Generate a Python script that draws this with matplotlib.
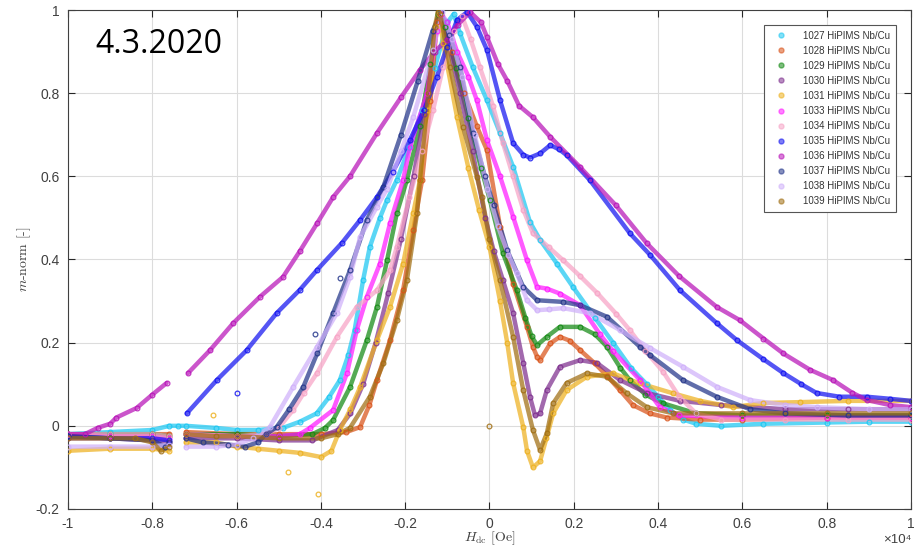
import numpy as np
import matplotlib
matplotlib.use("Agg")
import matplotlib.pyplot as plt
from matplotlib.lines import Line2D

nan = np.nan

# Sample names and plot colours (legend order)
samples = ["1027", "1028", "1029", "1030", "1031", "1033",
           "1034", "1035", "1036", "1037", "1038", "1039"]
colors = ["#1CC7F2", "#D95319", "#138A13", "#7E2F8E", "#EDB120", "#FF1AFF",
          "#F7A3C6", "#1414F0", "#B814B8", "#23358A", "#CFB0FA", "#A06E12"]

# Field H_dc in units of 1e4 Oe, normalised moment m; nan marks missing data
h_1027 = [-1.0, -0.9, -0.8, -0.76, -0.74, -0.72, -0.65, -0.6, -0.55, -0.49, -0.45, -0.41, -0.38,
          -0.355, -0.335, -0.32, -0.30, -0.284, -0.26, -0.243, -0.22, -0.19, -0.16, -0.13, -0.1,
          -0.085, -0.07, -0.04, -0.006, 0.025, 0.056, 0.096, 0.12, 0.16, 0.198, 0.25, 0.293, 0.335,
          0.373, 0.40, 0.428, 0.46, 0.49, 0.55, 0.65, 0.8, 0.9, 1.0]
m_1027 = [-0.02, -0.015, -0.01, 0.0, 0.0, 0.0, -0.005, -0.01, -0.01, -0.005, 0.01, 0.03, 0.07,
          0.11, 0.17, 0.23, 0.35, 0.43, 0.50, 0.543, 0.591, 0.67, 0.76, 0.86, 0.97,
          0.99, 0.944, 0.863, 0.783, 0.704, 0.623, 0.49, 0.447, 0.39, 0.334, 0.26, 0.2, 0.14,
          0.1, 0.07, 0.038, 0.015, 0.005, 0.0, 0.005, 0.008, 0.01, 0.01]

h_1028 = [-1.0, -0.9, -0.8, -0.76, nan, -0.72, -0.6, -0.5, -0.4, -0.34, -0.307, -0.285, -0.267,
          -0.236, -0.205, -0.181, -0.16, -0.14, -0.125, -0.115, -0.09, -0.06, -0.03, -0.006, 0.025,
          0.056, 0.089, 0.103, 0.113, 0.12, 0.144, 0.167, 0.19, 0.215, 0.25, 0.279, 0.31, 0.34,
          0.38, 0.42, 0.5, 0.6, 0.8, 1.0]
m_1028 = [-0.02, -0.025, -0.02, -0.02, nan, -0.015, -0.02, -0.02, -0.02, -0.015, -0.003, 0.05, 0.11,
          0.206, 0.326, 0.47, 0.591, 0.78, 0.97, 0.99, 0.9, 0.8, 0.72, 0.663, 0.479,
          0.342, 0.238, 0.19, 0.166, 0.158, 0.198, 0.214, 0.205, 0.182, 0.15, 0.12, 0.085, 0.05,
          0.03, 0.02, 0.015, 0.015, 0.02, 0.02]

h_1029 = [-1.0, -0.9, -0.8, -0.76, nan, -0.72, -0.6, -0.5, -0.42, -0.39, -0.371, -0.331, -0.291,
          -0.267, -0.243, -0.22, -0.196, -0.165, -0.14, -0.122, -0.105, -0.08, -0.05, -0.02, 0.001,
          0.032, 0.065, 0.085, 0.1, 0.113, 0.136, 0.167, 0.215, 0.25, 0.279, 0.31, 0.333, 0.37,
          0.412, 0.49, 0.6, 0.8, 1.0]
m_1029 = [-0.02, -0.02, -0.02, -0.025, nan, -0.02, -0.02, -0.025, -0.02, -0.005, 0.014, 0.093, 0.206,
          0.286, 0.398, 0.511, 0.591, 0.72, 0.87, 0.99, 0.96, 0.86, 0.74, 0.62, 0.543,
          0.415, 0.326, 0.26, 0.215, 0.194, 0.214, 0.238, 0.238, 0.22, 0.19, 0.14, 0.11, 0.075,
          0.054, 0.03, 0.025, 0.025, 0.025]

h_1030 = [-1.0, -0.9, -0.8, -0.76, nan, -0.72, -0.6, -0.5, -0.42, -0.36, -0.33, -0.3, -0.27, -0.24,
          -0.21, -0.18, -0.155, -0.135, -0.12, -0.1, -0.07, -0.04, -0.01, 0.01, 0.032, 0.056, 0.08,
          0.096, 0.108, 0.12, 0.136, 0.167, 0.215, 0.255, 0.31, 0.373, 0.452, 0.55, 0.7, 0.85, 1.0]
m_1030 = [-0.03, -0.03, -0.035, -0.04, nan, -0.03, -0.03, -0.035, -0.035, -0.01, 0.03, 0.1, 0.2, 0.32,
          0.45, 0.6, 0.75, 0.9, 0.99, 0.93, 0.8, 0.66, 0.5, 0.42, 0.35, 0.271, 0.151,
          0.07, 0.025, 0.03, 0.086, 0.142, 0.158, 0.151, 0.11, 0.079, 0.06, 0.05, 0.04, 0.04, 0.04]

h_1031 = [-1.0, -0.9, -0.8, -0.76, nan, -0.72, -0.65, -0.6, -0.55, -0.5, -0.45, -0.4, -0.375, -0.355,
          -0.33, -0.307, -0.267, -0.236, -0.205, -0.181, -0.165, -0.145, -0.128, -0.12, -0.11,
          -0.077, -0.05, -0.025, 0.0, 0.025, 0.042, 0.056, 0.08, 0.089, 0.103, 0.12, 0.135, 0.151,
          0.183, 0.231, 0.293, 0.357, 0.436, 0.5, 0.578, 0.65, 0.737, 0.85, 1.0]
m_1031 = [-0.06, -0.055, -0.055, -0.06, nan, -0.04, -0.04, -0.05, -0.055, -0.06, -0.065, -0.075, -0.06, -0.01,
          0.04, 0.093, 0.206, 0.286, 0.39, 0.511, 0.591, 0.76, 0.96, 0.99, 0.92,
          0.742, 0.62, 0.52, 0.43, 0.3, 0.2, 0.103, -0.003, -0.06, -0.1, -0.085, -0.03, 0.03,
          0.086, 0.118, 0.126, 0.102, 0.078, 0.06, 0.045, 0.055, 0.057, 0.06, 0.06]

h_1033 = [-1.0, -0.9, -0.8, -0.76, nan, -0.72, -0.6, -0.5, -0.45, -0.426, -0.371, -0.338, -0.315,
          -0.291, -0.26, -0.236, -0.205, -0.189, -0.148, -0.125, -0.115, -0.1, -0.077, -0.05, -0.03,
          -0.006, 0.025, 0.056, 0.089, 0.113, 0.136, 0.167, 0.215, 0.262, 0.293, 0.357, 0.404, 0.45,
          0.6, 0.8, 1.0]
m_1033 = [-0.02, -0.025, -0.025, -0.03, nan, -0.02, -0.025, -0.025, -0.02, -0.005, 0.038, 0.127, 0.23,
          0.31, 0.39, 0.487, 0.591, 0.67, 0.8, 0.95, 0.99, 0.97, 0.9, 0.84, 0.783,
          0.687, 0.6, 0.503, 0.398, 0.334, 0.33, 0.318, 0.29, 0.22, 0.18, 0.11, 0.045, 0.025,
          0.02, 0.02, 0.02]

h_1034 = [-1.0, -0.9, -0.8, -0.76, nan, -0.72, -0.6, -0.53, -0.5, -0.466, -0.44, -0.409, -0.362, -0.315,
          -0.267, -0.236, -0.22, -0.19, -0.16, -0.134, -0.11, -0.085, -0.065, -0.045, -0.023, 0.008,
          0.032, 0.056, 0.08, 0.103, 0.14, 0.175, 0.215, 0.255, 0.3, 0.333, 0.37, 0.412, 0.45, 0.49,
          0.55, 0.7, 0.85, 1.0]
m_1034 = [-0.02, -0.02, -0.02, -0.025, nan, -0.02, -0.025, -0.02, -0.005, 0.038, 0.08, 0.127, 0.214, 0.286,
          0.326, 0.374, 0.43, 0.55, 0.66, 0.759, 0.863, 0.95, 0.985, 0.93, 0.863, 0.77,
          0.68, 0.6, 0.52, 0.463, 0.43, 0.398, 0.36, 0.32, 0.27, 0.23, 0.18, 0.13, 0.07, 0.03,
          0.015, 0.015, 0.015, 0.015]

h_1035 = [-1.0, -0.9, -0.8, -0.76, nan, -0.718, -0.647, -0.576, -0.505, -0.45, -0.409, -0.35, -0.307,
          -0.267, -0.23, -0.189, -0.155, -0.125, -0.101, -0.077, -0.053, -0.03, -0.006, 0.025, 0.056,
          0.08, 0.096, 0.12, 0.144, 0.165, 0.183, 0.238, 0.333, 0.381, 0.452, 0.539, 0.587, 0.65,
          0.697, 0.74, 0.776, 0.83, 0.895, 0.95, 1.0]
m_1035 = [-0.025, -0.03, -0.03, -0.035, nan, 0.03, 0.11, 0.182, 0.271, 0.327, 0.375, 0.44, 0.495,
          0.55, 0.61, 0.687, 0.76, 0.839, 0.911, 0.976, 0.995, 0.96, 0.904, 0.783, 0.68,
          0.652, 0.645, 0.655, 0.675, 0.665, 0.651, 0.591, 0.463, 0.411, 0.326, 0.247, 0.206, 0.16,
          0.127, 0.1, 0.079, 0.07, 0.07, 0.065, 0.06]

h_1036 = [-1.0, -0.96, -0.93, -0.9, -0.885, -0.837, -0.8, -0.766, nan, -0.715, -0.663, -0.608, -0.545,
          -0.49, -0.45, -0.409, -0.371, -0.331, -0.267, -0.21, -0.165, -0.13, -0.101, -0.075, -0.046,
          -0.02, -0.006, 0.02, 0.042, 0.07, 0.103, 0.144, 0.215, 0.3, 0.373, 0.45, 0.539, 0.594,
          0.65, 0.697, 0.76, 0.815, 0.86, 0.895, 0.95, 1.0]
m_1036 = [-0.02, -0.02, -0.005, 0.005, 0.02, 0.043, 0.075, 0.103, nan, 0.127, 0.182, 0.247, 0.31,
          0.358, 0.42, 0.487, 0.55, 0.6, 0.704, 0.79, 0.856, 0.9, 0.928, 0.965, 0.995,
          0.97, 0.935, 0.87, 0.83, 0.77, 0.742, 0.695, 0.622, 0.53, 0.439, 0.36, 0.286, 0.254,
          0.21, 0.174, 0.135, 0.11, 0.08, 0.062, 0.05, 0.045]

h_1037 = [-1.0, -0.9, -0.8, -0.77, -0.76, nan, -0.72, -0.68, -0.62, -0.58, -0.55, -0.53, -0.505,
          -0.475, -0.442, -0.409, -0.371, -0.331, -0.291, -0.252, -0.21, -0.17, -0.135, -0.115,
          -0.095, -0.07, -0.039, -0.011, 0.01, 0.042, 0.08, 0.113, 0.175, 0.215, 0.279, 0.357,
          0.381, 0.459, 0.539, 0.618, 0.7, 0.85, 1.0]
m_1037 = [-0.025, -0.03, -0.035, -0.05, -0.04, nan, -0.03, -0.04, -0.045, -0.05, -0.04, -0.02, -0.003,
          0.04, 0.093, 0.174, 0.271, 0.374, 0.495, 0.574, 0.7, 0.83, 0.95, 0.995,
          0.94, 0.863, 0.704, 0.6, 0.53, 0.422, 0.334, 0.302, 0.298, 0.29, 0.262, 0.19,
          0.17, 0.11, 0.07, 0.04, 0.03, 0.025, 0.025]

h_1038 = [-1.0, -0.9, -0.8, -0.76, nan, -0.72, -0.65, -0.6, -0.56, -0.521, -0.466, -0.409, -0.362,
          -0.331, -0.307, -0.267, -0.243, -0.21, -0.181, -0.134, -0.113, -0.09, -0.065, -0.035,
          -0.005, 0.02, 0.045, 0.065, 0.089, 0.113, 0.14, 0.175, 0.238, 0.31, 0.381, 0.459, 0.539,
          0.618, 0.7, 0.776, 0.9, 1.0]
m_1038 = [-0.05, -0.05, -0.05, -0.045, nan, -0.05, -0.05, -0.045, -0.03, -0.003, 0.093, 0.19, 0.271,
          0.358, 0.454, 0.527, 0.57, 0.66, 0.742, 0.904, 0.995, 0.93, 0.84, 0.7,
          0.57, 0.48, 0.41, 0.367, 0.302, 0.278, 0.28, 0.283, 0.271, 0.23, 0.187, 0.142, 0.094,
          0.062, 0.05, 0.045, 0.04, 0.04]

h_1039 = [-1.0, -0.9, -0.84, -0.8, -0.78, -0.76, nan, -0.72, -0.65, -0.6, -0.5, -0.4, -0.36, -0.331,
          -0.284, -0.252, -0.22, -0.196, -0.172, -0.165, -0.145, -0.13, -0.122, -0.117, -0.094,
          -0.063, -0.03, -0.018, 0.0, 0.025, 0.056, 0.08, 0.103, 0.12, 0.136, 0.151, 0.183, 0.231,
          0.279, 0.326, 0.373, 0.436, 0.6, 0.8, 1.0]
m_1039 = [-0.03, -0.03, -0.03, -0.04, -0.06, -0.05, nan, -0.02, -0.025, -0.025, -0.03, -0.03, -0.02, -0.005,
          0.07, 0.15, 0.254, 0.35, 0.511, 0.591, 0.8, 0.96, 0.995, 0.99, 0.863,
          0.719, 0.599, 0.55, 0.45, 0.35, 0.214, 0.086, -0.01, -0.058, -0.018, 0.054, 0.103, 0.126,
          0.118, 0.078, 0.045, 0.03, 0.03, 0.03, 0.03]

# Isolated stray readings (sample index, H, m)
stray_sample = [4, 4, 4, 11, 9, 9, 7]
stray_h = [-0.656, -0.477, -0.407, 0.0, -0.414, -0.355, -0.6]
stray_m = [0.026, -0.11, -0.164, 0.0, 0.222, 0.355, 0.08]

h_series = [h_1027, h_1028, h_1029, h_1030, h_1031, h_1033,
            h_1034, h_1035, h_1036, h_1037, h_1038, h_1039]
m_series = [m_1027, m_1028, m_1029, m_1030, m_1031, m_1033,
            m_1034, m_1035, m_1036, m_1037, m_1038, m_1039]

x_ticks = [-1, -0.8, -0.6, -0.4, -0.2, 0, 0.2, 0.4, 0.6, 0.8, 1]
x_tick_labels = ["-1", "-0.8", "-0.6", "-0.4", "-0.2", "0", "0.2", "0.4", "0.6", "0.8", "1"]
y_ticks = [-0.2, 0, 0.2, 0.4, 0.6, 0.8, 1]
y_tick_labels = ["-0.2", "0", "0.2", "0.4", "0.6", "0.8", "1"]

plt.rcParams["mathtext.fontset"] = "cm"
plt.rcParams["font.family"] = ["Liberation Sans", "DejaVu Sans"]

fig = plt.figure(figsize=(9.2, 5.52), dpi=100)
ax = fig.add_axes([68 / 920, 1 - 509 / 552, 843 / 920, 499 / 552])

for h, m, c in zip(h_series, m_series, colors):
    ax.plot(h, m, "-", color=c, lw=3.2, alpha=0.72, solid_capstyle="round", zorder=2)
    ax.plot(h, m, "o", ls="none", ms=3.4, mfc="none", mec=c, mew=0.9, alpha=0.85, zorder=3)

for i, h, m in zip(stray_sample, stray_h, stray_m):
    ax.plot(h, m, "o", ms=3.4, mfc="none", mec=colors[i], mew=0.9, alpha=0.85, zorder=3)

ax.set_xlim(-1, 1)
ax.set_ylim(-0.2, 1)
ax.set_xticks(x_ticks)
ax.set_xticklabels(x_tick_labels)
ax.set_yticks(y_ticks)
ax.set_yticklabels(y_tick_labels)
ax.tick_params(direction="in", length=5, width=0.8, top=True, right=True,
               labelsize=10, colors="#262626", labelcolor="#404040", pad=6)
for s in ax.spines.values():
    s.set_color("#404040")
    s.set_linewidth(0.8)
ax.grid(True, color="#dcdcdc", lw=0.8)
ax.set_axisbelow(True)

ax.set_xlabel(r"$H_{\mathrm{dc}}$ [Oe]", family="cmr10", fontsize=10, color="#404040", labelpad=-1)
ax.set_ylabel(r"$m$-norm [-]", family="cmr10", fontsize=10, color="#404040", labelpad=2)
ax.text(1.0, -0.05, "×10⁴", transform=ax.transAxes, ha="right", va="top",
        fontsize=9.5, color="#404040")

ax.text(-0.936, 0.916, "4.3.2020", fontsize=23, family="Open Sans", color="black",
        ha="left", va="center")

handles = [Line2D([], [], ls="none", marker="o", ms=3.6, mfc=c, mec=c, alpha=0.55)
           for c in colors]
labels = [f"{s} HiPIMS Nb/Cu" for s in samples]
leg = ax.legend(handles, labels, loc="upper right", bbox_to_anchor=(0.988, 0.98),
                fontsize=7, labelspacing=0.52, handlelength=2.2, handletextpad=1.2,
                borderpad=0.6, fancybox=False, framealpha=1, edgecolor="#555555")
leg.get_frame().set_linewidth(0.8)
for t in leg.get_texts():
    t.set_color("#333333")

fig.savefig("out.png", dpi=100)
